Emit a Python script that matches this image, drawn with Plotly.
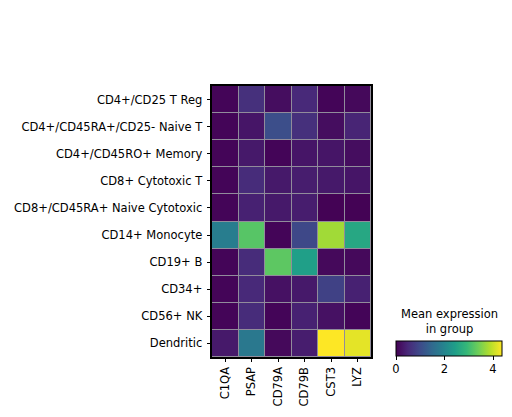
import plotly.graph_objects as go

genes = ["C1QA", "PSAP", "CD79A", "CD79B", "CST3", "LYZ"]
groups = [
    "CD4+/CD25 T Reg",
    "CD4+/CD45RA+/CD25- Naive T",
    "CD4+/CD45RO+ Memory",
    "CD8+ Cytotoxic T",
    "CD8+/CD45RA+ Naive Cytotoxic",
    "CD14+ Monocyte",
    "CD19+ B",
    "CD34+",
    "CD56+ NK",
    "Dendritic",
]
# mean expression per group (rows) and gene (columns)
mean_expr = [
    [0.05, 0.60, 0.15, 0.50, 0.05, 0.10],
    [0.05, 0.25, 1.05, 0.60, 0.15, 0.45],
    [0.05, 0.30, 0.05, 0.25, 0.25, 0.15],
    [0.05, 0.55, 0.30, 0.35, 0.30, 0.25],
    [0.05, 0.40, 0.30, 0.35, 0.02, 0.02],
    [1.85, 3.20, 0.05, 0.95, 3.75, 2.60],
    [0.05, 0.55, 3.25, 2.45, 0.10, 0.10],
    [0.05, 0.50, 0.20, 0.30, 0.85, 0.40],
    [0.05, 0.55, 0.05, 0.40, 0.20, 0.05],
    [0.30, 1.75, 0.10, 0.35, 4.37, 4.20],
]

# the page body adds an 8px offset, so the figure is 8px smaller on each axis
W, H = 504, 409
L, T = 204, 78
PW, PH = 159, 271
FS = 11.5

fig = go.Figure()
fig.add_trace(go.Heatmap(
    z=mean_expr,
    x=genes,
    y=groups,
    colorscale="Viridis",
    zmin=0,
    zmax=4.37,
    xgap=1,
    ygap=1,
    hoverinfo="x+y+z",
    colorbar=dict(
        orientation="h",
        lenmode="pixels", len=106,
        thickness=15,
        xanchor="left", x=(396 - 212) / PW,
        yanchor="top", y=(357 - 341) / PH,
        xpad=0, ypad=0,
        outlinecolor="black", outlinewidth=1,
        tickvals=[0, 2, 4],
        ticks="outside", ticklen=3.5, tickcolor="black",
        tickfont=dict(size=FS, color="black"),
    ),
))

fig.add_annotation(
    text="Mean expression<br>in group",
    xref="paper", yref="paper",
    x=(449 - 212) / PW, y=(357 - 338) / PH,
    xanchor="center", yanchor="bottom",
    showarrow=False,
    font=dict(size=FS, color="black"),
)

fig.update_xaxes(
    showline=True, linecolor="black", linewidth=1.8, mirror=True,
    ticks="outside", ticklen=3.5, tickcolor="black",
    tickangle=-90, tickfont=dict(size=FS, color="black"),
    showgrid=False, zeroline=False, automargin=False,
)
fig.update_yaxes(
    autorange="reversed",
    showline=True, linecolor="black", linewidth=1.8, mirror=True,
    ticks="outside", ticklen=3.5, tickcolor="black",
    tickfont=dict(size=FS, color="black"),
    ticklabelstandoff=2,
    showgrid=False, zeroline=False, automargin=False,
)

fig.update_layout(
    width=W, height=H,
    margin=dict(l=L, r=W - L - PW, t=T, b=H - T - PH, autoexpand=False),
    paper_bgcolor="white",
    plot_bgcolor="rgb(145,140,155)",
    font=dict(family="DejaVu Sans", color="black"),
)

fig.write_html("out.html")
